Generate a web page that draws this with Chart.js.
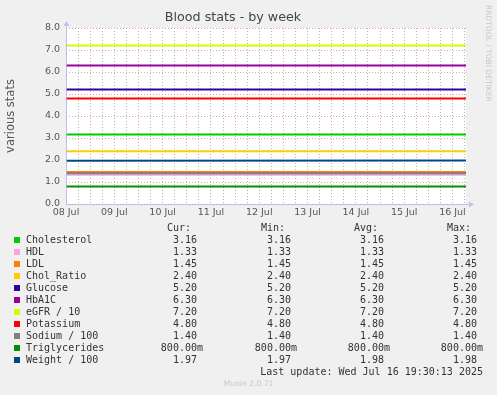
<!DOCTYPE html>
<html><head><meta charset="utf-8">
<script src="https://cdn.jsdelivr.net/npm/chart.js@4/dist/chart.umd.min.js"></script>
<style>
html,body{margin:0;padding:0;background:#f0f0f0;}
#wrap{position:relative;width:497px;height:395px;overflow:hidden;background:#f0f0f0;}
canvas{position:absolute;left:0;top:0;}
.m{position:absolute;white-space:pre;font-family:"DejaVu Sans Mono",monospace;font-size:10px;line-height:12px;color:#333;}
.sq{position:absolute;width:6px;height:6px;}
#rrd{position:absolute;left:484px;top:5px;writing-mode:vertical-rl;font-family:"DejaVu Sans",sans-serif;font-size:7.5px;line-height:9px;color:#c8c8c8;white-space:nowrap;}
#munin{position:absolute;left:0;width:497px;top:379px;text-align:center;font-family:"DejaVu Sans",sans-serif;font-size:7.6px;line-height:10px;color:#c8c8c8;}
</style></head><body>
<div id="wrap">
<canvas id="c" width="497" height="395"></canvas>
<div id="legend"></div>
<div id="rrd">RRDTOOL / TOBI OETIKER</div>
<div id="munin">Munin 2.0.71</div>
</div>
<script>
// ---- data ----
const chartTitle = 'Blood stats - by week';
const yAxisTitle = 'various stats';
const seriesNames = ['Cholesterol','HDL','LDL','Chol_Ratio','Glucose','HbA1C','eGFR / 10','Potassium','Sodium / 100','Triglycerides','Weight / 100'];
const seriesColors = ['#00CC00','#F5A6DC','#FF8000','#FFCC00','#330099','#990099','#CCFF00','#FF0000','#808080','#008F00','#00487D'];
const curValues = [3.16,1.33,1.45,2.40,5.20,6.30,7.20,4.80,1.40,0.80,1.97];
const minValues = [3.16,1.33,1.45,2.40,5.20,6.30,7.20,4.80,1.40,0.80,1.97];
const avgValues = [3.16,1.33,1.45,2.40,5.20,6.30,7.20,4.80,1.40,0.80,1.98];
const maxValues = [3.16,1.33,1.45,2.40,5.20,6.30,7.20,4.80,1.40,0.80,1.98];
// sample times in days after 08 Jul 00:00 (start and end of the plotted week)
const sampleDays = [0, 8.28];
// level of each series at the sample times
const seriesLevels = [
  [3.16,3.16],[1.33,1.33],[1.45,1.45],[2.40,2.40],[5.20,5.20],[6.30,6.30],
  [7.20,7.20],[4.80,4.80],[1.40,1.40],[0.80,0.80],[1.97,1.98]
];
const dayLabels = ['08 Jul','09 Jul','10 Jul','11 Jul','12 Jul','13 Jul','14 Jul','15 Jul','16 Jul'];
const yMin = 0, yMax = 8, yStep = 0.5;
const xMax = 8.28, xGridStep = 0.25;
const lastUpdate = 'Last update: Wed Jul 16 19:30:13 2025';

// ---- chart ----
const FONT = 'DejaVu Sans';
const majorCol = 'rgba(225,130,130,0.75)';
const minorCol = '#b4b4b4';
const xGrid = [];
for (let v = 0; v <= xMax + 1e-9; v += xGridStep) xGrid.push(Math.round(v*100)/100);

const bgPlugin = {
  id:'bg',
  beforeDraw(chart){
    const {ctx, chartArea:a} = chart;
    ctx.save();
    ctx.fillStyle = '#f0f0f0'; ctx.fillRect(0,0,chart.width,chart.height);
    ctx.fillStyle = '#ffffff'; ctx.fillRect(a.left,a.top,a.right-a.left,a.bottom-a.top);
    ctx.restore();
  },
  afterDraw(chart){
    const {ctx, chartArea:a} = chart;
    ctx.save();
    ctx.strokeStyle = 'rgba(180,180,235,0.8)';
    ctx.fillStyle = 'rgba(190,190,240,0.9)';
    ctx.lineWidth = 1;
    const L = Math.round(a.left)+0.5, B = Math.round(a.bottom)+0.5;
    ctx.beginPath(); ctx.moveTo(L, B); ctx.lineTo(L, a.top-3); ctx.stroke();
    ctx.beginPath(); ctx.moveTo(L-3, a.top-2); ctx.lineTo(L+3, a.top-2); ctx.lineTo(L, a.top-7); ctx.closePath(); ctx.fill();
    ctx.beginPath(); ctx.moveTo(L, B); ctx.lineTo(a.right+4, B); ctx.stroke();
    ctx.beginPath(); ctx.moveTo(a.right+3, B-3); ctx.lineTo(a.right+3, B+3); ctx.lineTo(a.right+8, B); ctx.closePath(); ctx.fill();
    ctx.restore();
  }
};

const n = seriesNames.length;
new Chart(document.getElementById('c'), {
  type:'line',
  data:{
    datasets: seriesNames.map((name,i)=>({
      label:name,
      data: sampleDays.map((d,j)=>({x:d, y:seriesLevels[i][j]})),
      borderColor: seriesColors[i],
      backgroundColor: seriesColors[i],
      borderWidth:2, pointRadius:0, fill:false, tension:0,
      order: n - i
    }))
  },
  options:{
    responsive:false, animation:false, devicePixelRatio:1,
    layout:{padding:{left:0,right:31,top:0,bottom:171}},
    plugins:{
      legend:{display:false}, tooltip:{enabled:false},
      title:{display:true, text:chartTitle, color:'#444',
        font:{family:FONT, size:12.7, weight:'normal', lineHeight:16/12.7},
        padding:{top:10,bottom:2}}
    },
    scales:{
      x:{
        type:'linear', min:0, max:xMax,
        afterBuildTicks(s){ s.ticks = xGrid.map(v=>({value:v})); },
        afterFit(s){ s.height = 20; },
        ticks:{autoSkip:false, maxRotation:0, padding:3, color:'#555',
          font:{family:FONT, size:9.5},
          callback(v){ return Number.isInteger(v) ? dayLabels[v] : ''; }},
        grid:{drawTicks:false, lineWidth:1,
          color(c){ const v = c.tick ? c.tick.value : 0; return Math.abs((v % 1) - 0.5) < 1e-6 ? majorCol : minorCol; }},
        border:{display:false, dash:[1,2]}
      },
      y:{
        min:yMin, max:yMax,
        ticks:{stepSize:yStep, padding:6, color:'#555', font:{family:FONT, size:9.5},
          callback(v){ return Number.isInteger(v) ? v.toFixed(1) : ''; }},
        afterFit(s){ s.width = 66; },
        grid:{drawTicks:false, lineWidth:1,
          color(c){ const v = c.tick ? c.tick.value : 0; return Number.isInteger(v) ? majorCol : minorCol; }},
        border:{display:false, dash:[1,2]},
        title:{display:true, text:yAxisTitle, color:'#555', font:{family:FONT, size:11.5}, padding:{top:4,bottom:0}}
      }
    }
  },
  plugins:[bgPlugin]
});

// ---- legend (HTML text) ----
const leg = document.getElementById('legend');
function fmt(v){ return v < 1 ? (v*1000).toFixed(2)+'m' : v.toFixed(2)+' '; }
function addText(txt, x, yc, alignRight){
  const d = document.createElement('div');
  d.className = 'm';
  d.textContent = txt;
  d.style.top = (yc - 6) + 'px';
  if (alignRight) d.style.right = (497 - x) + 'px'; else d.style.left = x + 'px';
  leg.appendChild(d);
}
const headY = 227.5, row0 = 239.5, rowH = 12;
addText('Cur:', 167, headY); addText('Min:', 261, headY); addText('Avg:', 354, headY); addText('Max:', 447, headY);
seriesNames.forEach((name,i)=>{
  const yc = row0 + i*rowH;
  const s = document.createElement('div');
  s.className = 'sq'; s.style.left = '14px'; s.style.top = (yc-3)+'px'; s.style.background = seriesColors[i];
  leg.appendChild(s);
  addText(name, 26, yc);
  addText(fmt(curValues[i]), 203, yc, true);
  addText(fmt(minValues[i]), 297, yc, true);
  addText(fmt(avgValues[i]), 390, yc, true);
  addText(fmt(maxValues[i]), 483, yc, true);
});
addText(lastUpdate, 483, 372, true);
</script>
</body></html>
